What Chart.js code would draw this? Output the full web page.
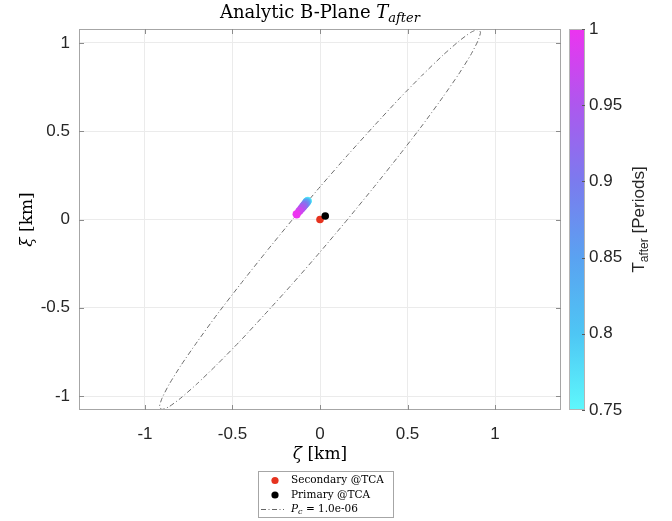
<!DOCTYPE html>
<html>
<head>
<meta charset="utf-8">
<title>Analytic B-Plane</title>
<script src="https://cdn.jsdelivr.net/npm/chart.js@4.4.0/dist/chart.umd.min.js"></script>
<style>
    html, body { margin: 0; padding: 0; background: #fff; }
    canvas { display: block; }
</style>
</head>
<body>
<canvas id="bplaneChart" width="672" height="521"></canvas>
<script>
// axis ticks
const xTicks = [-1, -0.5, 0, 0.5, 1];
const yTicks = [-1, -0.5, 0, 0.5, 1];
const cbTicks = [0.75, 0.8, 0.85, 0.9, 0.95, 1];

// objects at TCA
const secondaryTCA = [{ x: 0, y: 0 }];
const primaryTCA = [{ x: 0.03, y: 0.02 }];

// secondary position swept over T_after (periods)
const tAfter    = [0.75, 0.775, 0.8, 0.825, 0.85, 0.875, 0.9, 0.925, 0.95, 0.975, 1.0];
const sweepZeta = [-0.070, -0.072, -0.074, -0.077, -0.080, -0.084, -0.089, -0.096, -0.105, -0.117, -0.133];
const sweepXi   = [0.105, 0.103, 0.100, 0.097, 0.093, 0.088, 0.082, 0.074, 0.063, 0.049, 0.030];

// Pc = 1e-6 contour
const ellipseZeta = [0.157, -0.002, -0.161, -0.316, -0.460, -0.591, -0.704, -0.795, -0.862, -0.903, -0.917, -0.902,
    -0.861, -0.793, -0.701, -0.588, -0.456, -0.311, -0.157, 0.002, 0.161, 0.316, 0.460, 0.591, 0.704, 0.795,
    0.862, 0.903, 0.917, 0.902, 0.861, 0.793, 0.701, 0.588, 0.456, 0.311, 0.157];
const ellipseXi = [0, -0.187, -0.368, -0.538, -0.692, -0.824, -0.932, -1.011, -1.060, -1.076, -1.060, -1.011,
    -0.932, -0.824, -0.692, -0.538, -0.368, -0.187, 0, 0.187, 0.368, 0.538, 0.692, 0.824, 0.932, 1.011,
    1.060, 1.076, 1.060, 1.011, 0.932, 0.824, 0.692, 0.538, 0.368, 0.187, 0];

// colormap stops (value -> colour)
const cmapValues = [0.75, 0.8, 0.85, 0.9, 0.95, 1.0];
const cmapColors = ['#5ef8fc', '#4ec6f4', '#5aa2f1', '#7b7bee', '#ad58ee', '#ec34f0'];

function hexToRgb(h) {
    return [parseInt(h.slice(1, 3), 16), parseInt(h.slice(3, 5), 16), parseInt(h.slice(5, 7), 16)];
}

function colorFor(v) {
    for (let i = 0; i < cmapValues.length - 1; i++) {
        if (v <= cmapValues[i + 1]) {
            const f = (v - cmapValues[i]) / (cmapValues[i + 1] - cmapValues[i]);
            const a = hexToRgb(cmapColors[i]), b = hexToRgb(cmapColors[i + 1]);
            const c = a.map((x, k) => Math.round(x + (b[k] - x) * f));
            return 'rgb(' + c.join(',') + ')';
        }
    }
    return cmapColors[cmapColors.length - 1];
}

const sweepPoints = tAfter.map((t, i) => ({ x: sweepZeta[i], y: sweepXi[i] }));
const ellipsePoints = ellipseZeta.map((z, i) => ({ x: z, y: ellipseXi[i] }));

const SANS = "'Liberation Sans', Arial, sans-serif";
const SERIF = "'DejaVu Serif', serif";
const ELLIPSE_DASH = [5, 2.5, 1, 2.5];

// draws text pieces one after another: [text, font, dy]
function drawRuns(ctx, runs, x, y) {
    let cx = x;
    runs.forEach(r => {
        ctx.font = r[1];
        ctx.fillText(r[0], cx, y + (r[2] || 0));
        cx += ctx.measureText(r[0]).width;
    });
}

function runsWidth(ctx, runs) {
    let w = 0;
    runs.forEach(r => { ctx.font = r[1]; w += ctx.measureText(r[0]).width; });
    return w;
}

const decorPlugin = {
    id: 'decor',
    afterDraw(chart) {
        const ctx = chart.ctx;
        const area = chart.chartArea;
        const xs = chart.scales.x, ys = chart.scales.y, cb = chart.scales.cb;

        ctx.save();

        // box round the axes
        ctx.strokeStyle = '#a6a6a6';
        ctx.lineWidth = 1;
        ctx.strokeRect(area.left + 0.5, area.top + 0.5, area.right - area.left - 1, area.bottom - area.top - 1);

        // inward tick marks on all four sides
        ctx.strokeStyle = '#8c8c8c';
        ctx.beginPath();
        xTicks.forEach(v => {
            const px = Math.round(xs.getPixelForValue(v)) + 0.5;
            ctx.moveTo(px, area.bottom); ctx.lineTo(px, area.bottom - 5);
            ctx.moveTo(px, area.top); ctx.lineTo(px, area.top + 5);
        });
        yTicks.forEach(v => {
            const py = Math.round(ys.getPixelForValue(v)) + 0.5;
            ctx.moveTo(area.left, py); ctx.lineTo(area.left + 5, py);
            ctx.moveTo(area.right, py); ctx.lineTo(area.right - 5, py);
        });
        ctx.stroke();

        // colorbar
        const barL = 569, barR = 585;
        const grad = ctx.createLinearGradient(0, cb.getPixelForValue(0.75), 0, cb.getPixelForValue(1));
        cmapValues.forEach((v, i) => grad.addColorStop((v - 0.75) / 0.25, cmapColors[i]));
        ctx.fillStyle = grad;
        ctx.fillRect(barL, area.top, barR - barL, area.bottom - area.top);
        ctx.strokeStyle = '#b4b4b4';
        ctx.strokeRect(barL + 0.5, area.top + 0.5, barR - barL - 1, area.bottom - area.top - 1);
        ctx.strokeStyle = '#5a5a5a';
        ctx.beginPath();
        cbTicks.forEach(v => {
            const py = Math.round(cb.getPixelForValue(v)) + 0.5;
            ctx.moveTo(barR - 3, py); ctx.lineTo(barR, py);
        });
        ctx.stroke();

        ctx.fillStyle = '#262626';
        ctx.textBaseline = 'alphabetic';
        ctx.textAlign = 'left';

        // colorbar label
        const cbRuns = [['T', '17px ' + SANS], ['after', '12px ' + SANS, 4], [' [Periods]', '17px ' + SANS]];
        ctx.save();
        ctx.translate(644, (area.top + area.bottom) / 2);
        ctx.rotate(-Math.PI / 2);
        drawRuns(ctx, cbRuns, -runsWidth(ctx, cbRuns) / 2, 0);
        ctx.restore();

        // title
        ctx.fillStyle = '#000';
        const titleRuns = [['Analytic B-Plane ', '18px ' + SERIF], ['T', 'italic 18px ' + SERIF], ['after', 'italic 13px ' + SERIF, 4]];
        const midX = (area.left + area.right) / 2;
        drawRuns(ctx, titleRuns, midX - runsWidth(ctx, titleRuns) / 2, 18);

        // axis titles
        const xRuns = [['ζ', 'italic 17px ' + SERIF], [' [km]', '17px ' + SERIF]];
        drawRuns(ctx, xRuns, midX - runsWidth(ctx, xRuns) / 2, 459);

        const yRuns = [['ξ', 'italic 17px ' + SERIF], [' [km]', '17px ' + SERIF]];
        ctx.save();
        ctx.translate(32, (area.top + area.bottom) / 2);
        ctx.rotate(-Math.PI / 2);
        drawRuns(ctx, yRuns, -runsWidth(ctx, yRuns) / 2, 0);
        ctx.restore();

        // legend box
        const lx = 258.5, ly = 471.5, lw = 135, lh = 46;
        ctx.fillStyle = '#fff';
        ctx.fillRect(lx, ly, lw, lh);
        ctx.strokeStyle = '#a6a6a6';
        ctx.strokeRect(lx, ly, lw, lh);

        const rows = [480.5, 495, 509];
        ctx.fillStyle = '#e6331f';
        ctx.beginPath(); ctx.arc(275, rows[0], 3.6, 0, Math.PI * 2); ctx.fill();
        ctx.fillStyle = '#000';
        ctx.beginPath(); ctx.arc(275, rows[1], 3.6, 0, Math.PI * 2); ctx.fill();
        ctx.strokeStyle = '#666';
        ctx.setLineDash(ELLIPSE_DASH);
        ctx.beginPath(); ctx.moveTo(261, rows[2] + 0.5); ctx.lineTo(284, rows[2] + 0.5); ctx.stroke();
        ctx.setLineDash([]);

        ctx.fillStyle = '#000';
        ctx.textBaseline = 'middle';
        const lf = '10.5px ' + SERIF;
        drawRuns(ctx, [['Secondary @TCA', lf]], 291, rows[0]);
        drawRuns(ctx, [['Primary @TCA', lf]], 291, rows[1]);
        drawRuns(ctx, [['P', 'italic ' + lf], ['c', 'italic 8px ' + SERIF, 3], [' = 1.0e-06', lf]], 291, rows[2]);

        ctx.restore();
    }
};

const tickFont = { family: SANS, size: 17 };
const plainNum = v => String(+Number(v).toFixed(2));

new Chart(document.getElementById('bplaneChart').getContext('2d'), {
    type: 'scatter',
    data: {
        datasets: [
            {
                label: 'Primary @TCA',
                data: primaryTCA,
                backgroundColor: '#000',
                borderWidth: 0,
                pointRadius: 3.8,
                order: 1
            },
            {
                label: 'Secondary @TCA',
                data: secondaryTCA,
                backgroundColor: '#e6331f',
                borderWidth: 0,
                pointRadius: 3.8,
                order: 2
            },
            {
                label: 'T_after',
                data: sweepPoints,
                backgroundColor: tAfter.map(colorFor),
                borderWidth: 0,
                pointRadius: 4.2,
                order: 3
            },
            {
                label: 'Pc = 1.0e-06',
                data: ellipsePoints,
                showLine: true,
                borderColor: '#6e6e6e',
                borderWidth: 1,
                borderDash: ELLIPSE_DASH,
                tension: 0.2,
                pointRadius: 0,
                fill: false,
                order: 4
            }
        ]
    },
    options: {
        responsive: false,
        animation: false,
        devicePixelRatio: 1,
        layout: { padding: { top: 29, left: 0, right: 0, bottom: 0 } },
        plugins: {
            legend: { display: false },
            tooltip: { enabled: false }
        },
        events: [],
        scales: {
            x: {
                type: 'linear',
                min: -1.377,
                max: 1.377,
                afterBuildTicks: s => { s.ticks = xTicks.map(v => ({ value: v })); },
                afterFit: s => { s.height = 111; },
                grid: { color: '#ebebeb', drawTicks: false },
                border: { display: false },
                ticks: { color: '#262626', font: tickFont, padding: 14, maxRotation: 0, callback: plainNum }
            },
            y: {
                type: 'linear',
                min: -1.079,
                max: 1.079,
                afterBuildTicks: s => { s.ticks = yTicks.map(v => ({ value: v })); },
                afterFit: s => { s.width = 79; },
                grid: { color: '#ebebeb', drawTicks: false },
                border: { display: false },
                ticks: { color: '#262626', font: tickFont, padding: 9, callback: plainNum }
            },
            cb: {
                type: 'linear',
                position: 'right',
                min: 0.75,
                max: 1,
                afterBuildTicks: s => { s.ticks = cbTicks.map(v => ({ value: v })); },
                afterFit: s => { s.width = 111; },
                // hidden tick marks only push the labels clear of the colour bar
                grid: { display: false, drawOnChartArea: false, drawTicks: true, tickLength: 22 },
                border: { display: false },
                ticks: { color: '#262626', font: tickFont, padding: 6, callback: plainNum }
            }
        }
    },
    plugins: [decorPlugin]
});
</script>
</body>
</html>
